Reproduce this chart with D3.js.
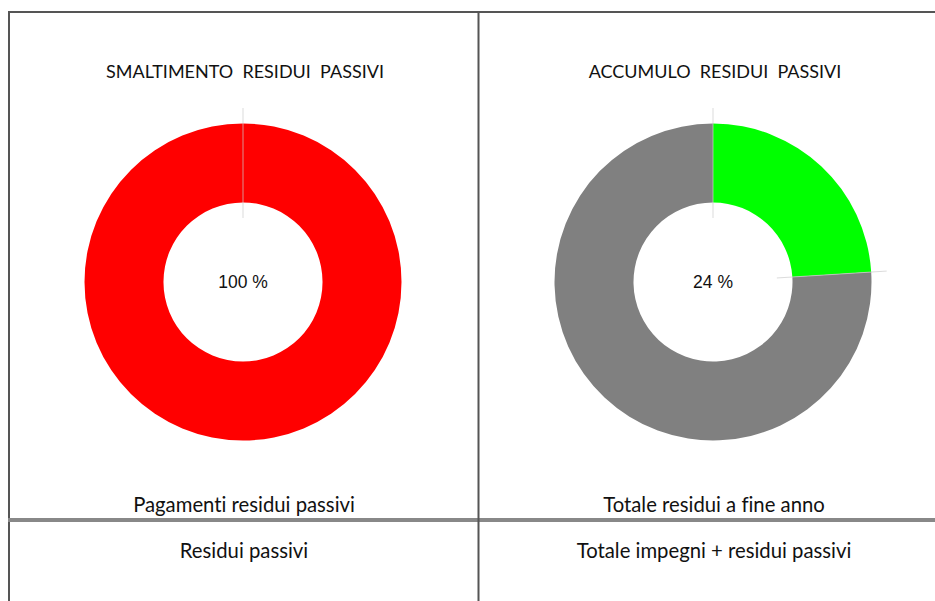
<!DOCTYPE html>
<html><head><meta charset="utf-8">
<script src="https://cdn.jsdelivr.net/npm/d3@7"></script>
<style>body{margin:0;background:#fff}svg{display:block}text{font-variant-ligatures:none}</style>
</head><body>
<svg id="c" width="935" height="601"></svg>
<script>
const titles = ["SMALTIMENTO  RESIDUI  PASSIVI", "ACCUMULO  RESIDUI  PASSIVI"];
const numeratorLabels = ["Pagamenti residui passivi", "Totale residui a fine anno"];
const denominatorLabels = ["Residui passivi", "Totale impegni + residui passivi"];
const percentLabels = ["100 %", "24 %"];
const chart1Values = [100];
const chart1Colors = ["#ff0000"];
const chart2Values = [24, 76];
const chart2Colors = ["#00ff00", "#808080"];

const svg = d3.select("#c");
const W = 935, H = 601;
const centers = [243, 713];
const cy = 282;
const outerR = 158.5, innerR = 79.5;

const pie = d3.pie().sort(null).value(d => d);
const arc = d3.arc().innerRadius(innerR).outerRadius(outerR);

const datasets = [{v: chart1Values, c: chart1Colors}, {v: chart2Values, c: chart2Colors}];
const labelFont = "Lato, 'Open Sans', sans-serif";

datasets.forEach((ds, i) => {
  const g = svg.append("g").attr("transform", `translate(${centers[i]},${cy})`);
  const arcs = pie(ds.v);
  g.selectAll("path.slice").data(arcs).join("path")
    .attr("class", "slice")
    .attr("d", arc)
    .attr("fill", (d, j) => ds.c[j]);
  g.selectAll("line.b").data(arcs).join("line")
    .attr("class", "b")
    .attr("x1", d => 64 * Math.sin(d.startAngle))
    .attr("y1", d => -64 * Math.cos(d.startAngle))
    .attr("x2", d => 174 * Math.sin(d.startAngle))
    .attr("y2", d => -174 * Math.cos(d.startAngle))
    .attr("stroke", "#cccccc")
    .attr("stroke-opacity", 0.7)
    .attr("stroke-width", 1);
  g.append("text").attr("text-anchor", "middle").attr("dy", "0.35em")
    .attr("font-family", "Liberation Sans, Arial, sans-serif")
    .attr("font-size", 17.5).attr("fill", "#111")
    .text(percentLabels[i]);
  svg.append("text").attr("x", centers[i] + 2).attr("y", 78)
    .attr("text-anchor", "middle")
    .attr("font-family", labelFont)
    .attr("font-size", 18).attr("fill", "#111")
    .style("white-space", "pre")
    .text(titles[i]);
  svg.append("text").attr("x", centers[i] + 1).attr("y", 512)
    .attr("text-anchor", "middle")
    .attr("font-family", labelFont)
    .attr("font-size", 20.3).attr("fill", "#111")
    .text(numeratorLabels[i]);
  svg.append("text").attr("x", centers[i] + 1).attr("y", 558)
    .attr("text-anchor", "middle")
    .attr("font-family", labelFont)
    .attr("font-size", 20.3).attr("fill", "#111")
    .text(denominatorLabels[i]);
});

svg.append("line").attr("x1", 8).attr("x2", W).attr("y1", 12).attr("y2", 12)
  .attr("stroke", "#555").attr("stroke-width", 2);
svg.append("line").attr("x1", 9).attr("x2", 9).attr("y1", 11).attr("y2", H)
  .attr("stroke", "#555").attr("stroke-width", 2);
svg.append("line").attr("x1", 8).attr("x2", W).attr("y1", 520).attr("y2", 520)
  .attr("stroke", "#888").attr("stroke-width", 4);
svg.append("line").attr("x1", 478.5).attr("x2", 478.5).attr("y1", 11).attr("y2", H)
  .attr("stroke", "#555").attr("stroke-width", 2);
</script>
</body></html>
